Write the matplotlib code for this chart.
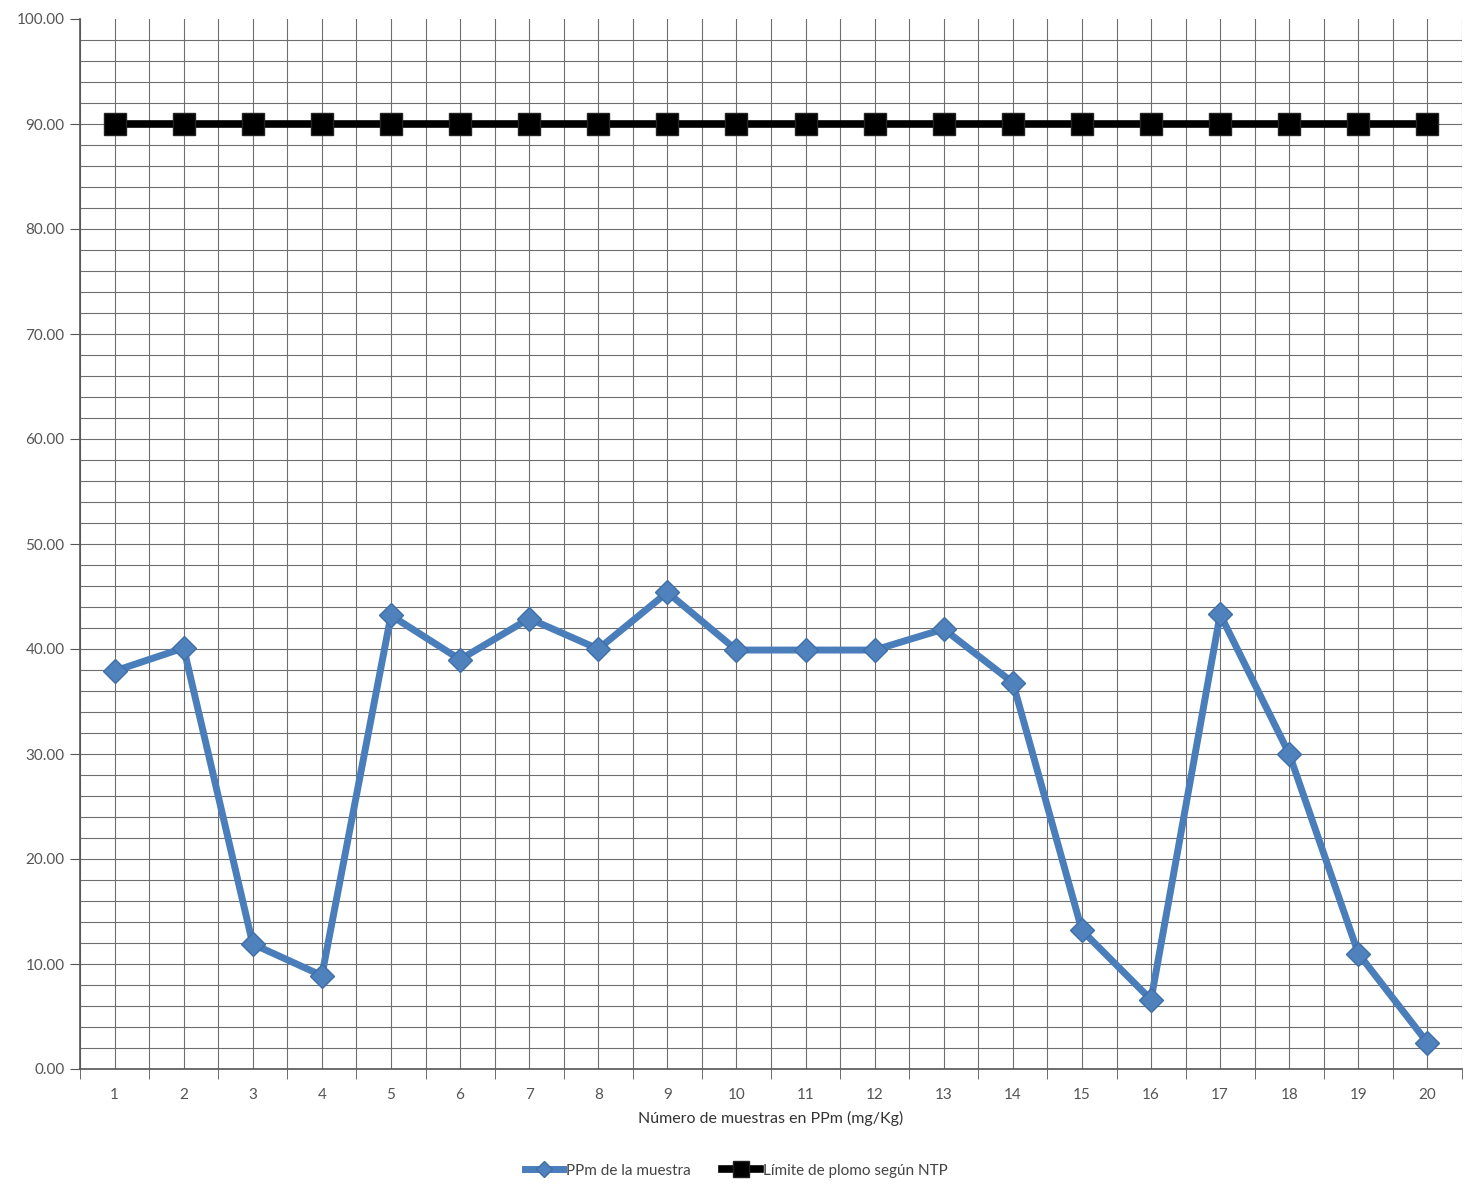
import matplotlib.pyplot as plt
import numpy as np
from matplotlib.ticker import MultipleLocator, FormatStrFormatter

# data
muestras = list(range(1, 21))
ppm_muestra = [37.9, 40.1, 11.9, 8.9, 43.2, 39.0, 42.9, 40.0, 45.4, 39.9,
               39.9, 39.9, 41.9, 36.8, 13.2, 6.6, 43.3, 30.0, 11.0, 2.5]
limite_ntp = [90.0] * 20

plt.rcParams['font.family'] = ['Lato', 'DejaVu Sans']

fig = plt.figure(figsize=(14.73, 11.85), dpi=100)
ax = fig.add_axes([80 / 1473, 116 / 1185, 1382 / 1473, 1050 / 1185])

# series
ax.plot(muestras, ppm_muestra, color='#4a7ebb', lw=5, marker='D', ms=12,
        mfc='#4f81bd', mec='#3f6fa8', mew=1, label='PPm de la muestra', zorder=4)
ax.plot(muestras, limite_ntp, color='black', lw=5.5, marker='s', ms=16,
        mfc='black', mec='#222222', label='Límite de plomo según NTP', zorder=3)

# axes
ax.set_xlim(0.5, 20.5)
ax.set_ylim(0, 100)
ax.yaxis.set_major_locator(MultipleLocator(10))
ax.yaxis.set_minor_locator(MultipleLocator(2))
ax.yaxis.set_major_formatter(FormatStrFormatter('%.2f'))
ax.set_xticks(muestras)
ax.set_xticks(np.arange(0.5, 21, 1), minor=True)

ax.grid(which='both', color='#6e6e6e', lw=0.8)
ax.set_axisbelow(True)
ax.tick_params(axis='x', which='major', length=0, pad=14, labelsize=11, labelcolor='#555555')
ax.tick_params(axis='x', which='minor', length=7, color='#555555')
ax.tick_params(axis='y', which='major', length=7, color='#555555', labelsize=11, labelcolor='#555555', pad=4)
ax.tick_params(axis='y', which='minor', length=0)

for s in ['top', 'right']:
    ax.spines[s].set_visible(False)
for s in ['left', 'bottom']:
    ax.spines[s].set_color('#555555')
    ax.spines[s].set_linewidth(1.2)

ax.set_xlabel('Número de muestras en PPm (mg/Kg)', fontsize=11.5, color='#333333', labelpad=6)

fig.legend(loc='center', bbox_to_anchor=(0.5, 0.012), ncol=2, frameon=False,
           fontsize=11, labelcolor='#444444', handlelength=2.5, columnspacing=2.0,
           markerscale=0.7, handletextpad=0.2)

fig.canvas.draw()
# no gridline along the top edge
for t in ax.yaxis.get_major_ticks() + ax.yaxis.get_minor_ticks():
    if t.get_loc() >= 99.9:
        t.gridline.set_visible(False)

fig.savefig('out.png', dpi=100)
